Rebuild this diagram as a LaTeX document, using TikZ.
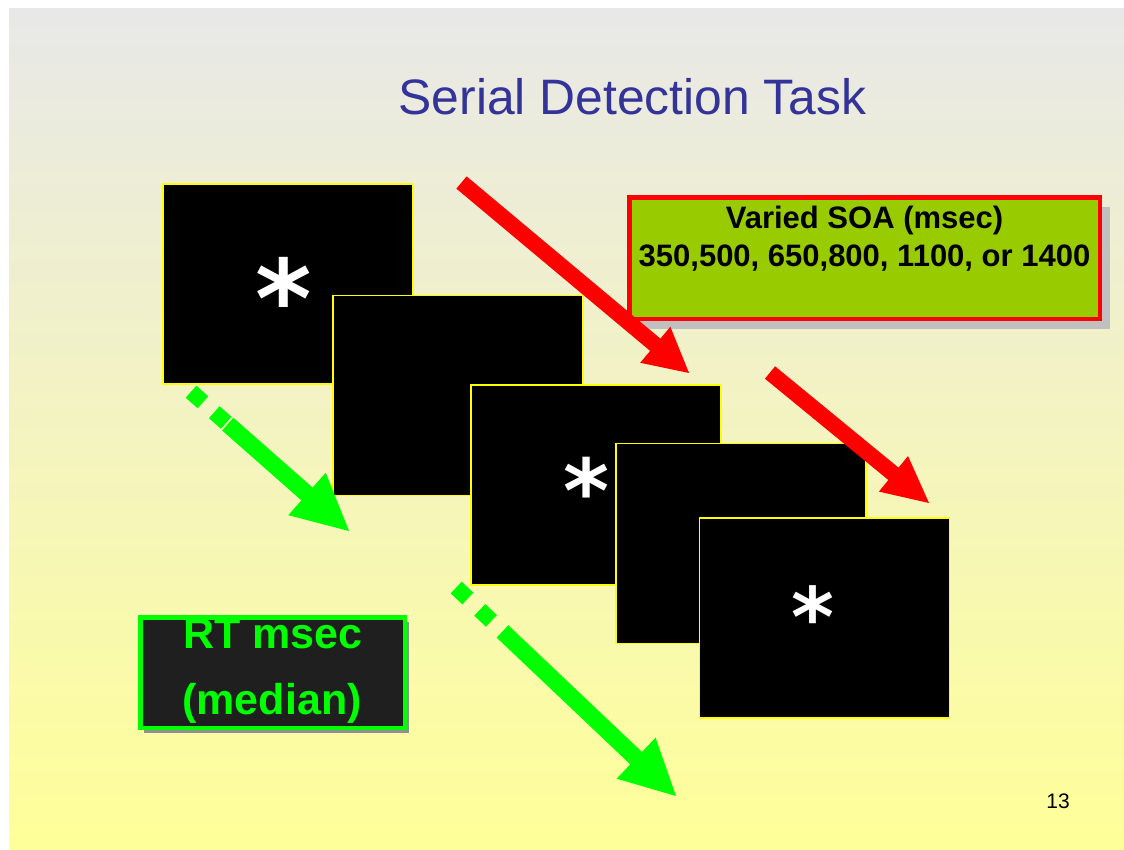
\documentclass[tikz,border=0pt]{standalone}
\usepackage{fontspec}
\setmainfont{Liberation Sans}
\newfontfamily\starfont{DejaVu Sans}
\usetikzlibrary{calc,shadows}
\definecolor{titleblue}{HTML}{333399}
\definecolor{bgtop}{HTML}{E8E8E8}
\definecolor{bgbot}{HTML}{FFFF99}
\definecolor{soagreen}{HTML}{99CC00}
\definecolor{soashadow}{HTML}{C0C0C0}
\definecolor{rtfill}{HTML}{1F1F1F}
\definecolor{rtshadow}{HTML}{909090}
\definecolor{brightgreen}{HTML}{00FF00}
\definecolor{arrowred}{HTML}{FF0000}
\definecolor{screenedge}{HTML}{FFFF00}
% #1 tail, #2 tip, #3 half shaft width, #4 half head width, #5 head length, #6 colour
\newcommand\blockarrow[6]{%
  \coordinate (bahead) at ($(#2)!#5!(#1)$);
  \fill[#6] ($(#1)!#3!90:(#2)$) -- ($(bahead)!#3!-90:(#1)$) -- ($(bahead)!#4!-90:(#1)$)
    -- (#2) -- ($(bahead)!#4!90:(#1)$) -- ($(bahead)!#3!90:(#1)$) -- ($(#1)!#3!-90:(#2)$) -- cycle;}
\begin{document}
\begin{tikzpicture}[x=1pt,y=-1pt,
  screen/.style={draw=screenedge,line width=1.2pt,fill=black,minimum width=250pt,minimum height=200pt,inner sep=0pt},
  star/.style={text=white,inner sep=0pt,anchor=base},
  soabox/.style={draw=arrowred,line width=4.5pt,fill=soagreen,minimum width=470.5pt,minimum height=121.5pt,
    drop shadow={shadow xshift=10pt,shadow yshift=-10pt,fill=soashadow,opacity=1}},
  soatext/.style={inner sep=0pt,text=black,anchor=base,font=\fontsize{31}{36}\selectfont\bfseries},
  rtbox/.style={draw=brightgreen,line width=4.5pt,fill=rtfill,minimum width=264.5pt,minimum height=110.5pt,
    drop shadow={shadow xshift=4pt,shadow yshift=-5pt,fill=rtshadow,opacity=1}},
  rttext/.style={inner sep=0pt,text=brightgreen,anchor=base,font=\fontsize{43}{46}\selectfont\bfseries},
  greendot/.style={draw=brightgreen,line width=16pt}
]
\useasboundingbox (0,0) rectangle (1124,849);
\fill[white] (0,0) rectangle (1124,849);
\shade[top color=bgtop,bottom color=bgbot] (9,8) rectangle (1124,849);

\node[anchor=base,inner sep=0pt,text=titleblue,font=\fontsize{49.8}{55}\selectfont] (title) at (632.5,114) {Serial Detection Task};

\node[screen] (s1) at (288,284) {};
\node[star,font=\starfont\fontsize{108}{108}\selectfont\bfseries] (a1) at (284,337) {*};
\node[screen] (s2) at (458,395.5) {};
\node[screen] (s3) at (596,485) {};
\node[star,font=\starfont\fontsize{88}{88}\selectfont\bfseries] (a3) at (587,522) {*};
\node[screen] (s4) at (741,543.5) {};
\node[screen] (s5) at (824.5,618) {};
\node[star,font=\starfont\fontsize{82}{82}\selectfont\bfseries] (a5) at (812.5,646) {*};

\node[soabox] (soa) at (864.5,258) {};
\node[soatext] (soa1) at (864.5,228) {Varied SOA (msec)};
\node[soatext] (soa2) at (864.5,266) {350,500, 650,800, 1100, or 1400};

\node[rtbox] (rt) at (272.5,672.5) {};
\node[rttext] (rt1) at (273,648) {RT msec};
\node[rttext] (rt2) at (272,714) {(median)};

\node[anchor=base,inner sep=0pt,font=\fontsize{21}{24}\selectfont] (pnum) at (1058,808) {13};

% red arrows
\coordinate (r1a) at (461.5,182.5);
\coordinate (r1b) at (689,373);
\blockarrow{r1a}{r1b}{8pt}{23.5pt}{44pt}{arrowred}
\coordinate (r2a) at (770,372.5);
\coordinate (r2b) at (929,503);
\blockarrow{r2a}{r2b}{8pt}{23pt}{46pt}{arrowred}

% green arrows
\coordinate (g1a) at (191,391.7);
\coordinate (g1b) at (349,531);
\draw[greendot] (g1a) -- ($(g1a)!16pt!(g1b)$);
\draw[greendot] ($(g1a)!31pt!(g1b)$) -- ($(g1a)!47pt!(g1b)$);
\coordinate (g1c) at ($(g1a)!49pt!(g1b)$);
\blockarrow{g1c}{g1b}{8.5pt}{28.3pt}{56pt}{brightgreen}

\coordinate (g2a) at (456.2,587.5);
\coordinate (g2b) at (676,796);
\draw[greendot] (g2a) -- ($(g2a)!16pt!(g2b)$);
\draw[greendot] ($(g2a)!32.5pt!(g2b)$) -- ($(g2a)!48.5pt!(g2b)$);
\coordinate (g2c) at ($(g2a)!63.8pt!(g2b)$);
\blockarrow{g2c}{g2b}{8.5pt}{28.3pt}{55pt}{brightgreen}
\end{tikzpicture}
\end{document}
